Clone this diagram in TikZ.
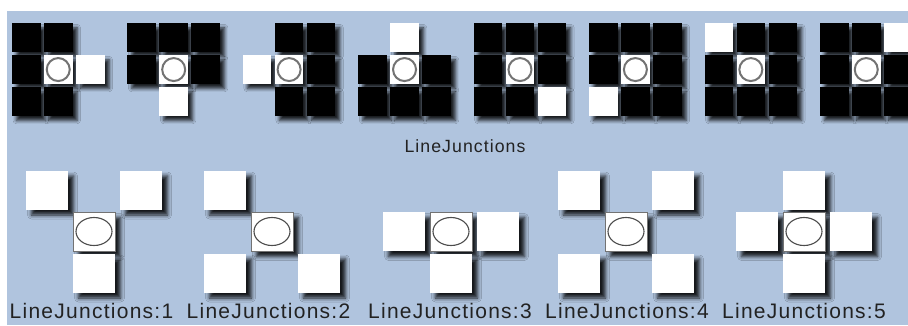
\documentclass[tikz,border=0pt]{standalone}
\usepackage{fontspec}
\newfontfamily\lblfont[LetterSpace=6]{Liberation Sans}
\usetikzlibrary{shadows.blur}
\definecolor{bgblue}{HTML}{B0C4DE}
\definecolor{txtgray}{HTML}{222222}
\newcommand{\tc}[4]{\node[#4] (t#1-#2#3) at ({12+115.43*(#1-1)+32*#2},{23.3+32*#3}) {};}
\newcommand{\tcen}[1]{\tc{#1}{1}{1}{wht}\draw[ring] (t#1-11.center) circle[radius=11.5pt];}
\newcommand{\bc}[4]{\node[#4] (b#1-#3#2) at ({\bxo+47*#2},{170.5+41.5*#3}) {};}
\newcommand{\bcen}[1]{\bc{#1}{1}{1}{bcsq}\draw[ell] (b#1-11.center) ellipse[x radius=18pt, y radius=14pt];}
\begin{document}
\begin{tikzpicture}[x=1pt,y=-1pt,
  tshadow/.style={blur shadow={shadow xshift=4.5pt, shadow yshift=-4.5pt, shadow blur radius=3.5pt, shadow opacity=85}},
  bshadow/.style={blur shadow={shadow xshift=5.5pt, shadow yshift=-5.5pt, shadow blur radius=4pt, shadow opacity=88}},
  sq/.style={draw=none, inner sep=0pt, outer sep=0pt, anchor=north west},
  topsq/.style={sq, tshadow, minimum width=28.5pt, minimum height=28.5pt},
  blk/.style={topsq, fill=black},
  wht/.style={topsq, fill=white},
  ring/.style={draw=gray!90!black, line width=2pt},
  bsq/.style={sq, bshadow, fill=white, minimum width=42pt, minimum height=39pt},
  bcsq/.style={bsq, draw=black!55, line width=0.8pt},
  ell/.style={draw=black!70, line width=1.1pt},
  lbl/.style={font=\lblfont\fontsize{21}{24}\selectfont, text=txtgray, anchor=base, inner sep=0pt},
  ttl/.style={lbl, font=\lblfont\fontsize{17.7}{20}\selectfont}
]
\useasboundingbox (0,0) rectangle (908,325);
\clip (0,0) rectangle (908,325);
\fill[white] (0,0) rectangle (908,325);
\fill[bgblue] (7,11) rectangle (908,325);

% ---- top row ----
% 1
\tc{1}{0}{0}{blk}\tc{1}{1}{0}{blk}
\tc{1}{0}{1}{blk}\tcen{1}\tc{1}{2}{1}{wht}
\tc{1}{0}{2}{blk}\tc{1}{1}{2}{blk}
% 2
\tc{2}{0}{0}{blk}\tc{2}{1}{0}{blk}\tc{2}{2}{0}{blk}
\tc{2}{0}{1}{blk}\tcen{2}\tc{2}{2}{1}{blk}
\tc{2}{1}{2}{wht}
% 3
\tc{3}{1}{0}{blk}\tc{3}{2}{0}{blk}
\tc{3}{0}{1}{wht}\tcen{3}\tc{3}{2}{1}{blk}
\tc{3}{1}{2}{blk}\tc{3}{2}{2}{blk}
% 4
\tc{4}{1}{0}{wht}
\tc{4}{0}{1}{blk}\tcen{4}\tc{4}{2}{1}{blk}
\tc{4}{0}{2}{blk}\tc{4}{1}{2}{blk}\tc{4}{2}{2}{blk}
% 5
\tc{5}{0}{0}{blk}\tc{5}{1}{0}{blk}\tc{5}{2}{0}{blk}
\tc{5}{0}{1}{blk}\tcen{5}\tc{5}{2}{1}{blk}
\tc{5}{0}{2}{blk}\tc{5}{1}{2}{blk}\tc{5}{2}{2}{wht}
% 6
\tc{6}{0}{0}{blk}\tc{6}{1}{0}{blk}\tc{6}{2}{0}{blk}
\tc{6}{0}{1}{blk}\tcen{6}\tc{6}{2}{1}{blk}
\tc{6}{0}{2}{wht}\tc{6}{1}{2}{blk}\tc{6}{2}{2}{blk}
% 7
\tc{7}{0}{0}{wht}\tc{7}{1}{0}{blk}\tc{7}{2}{0}{blk}
\tc{7}{0}{1}{blk}\tcen{7}\tc{7}{2}{1}{blk}
\tc{7}{0}{2}{blk}\tc{7}{1}{2}{blk}\tc{7}{2}{2}{blk}
% 8
\tc{8}{0}{0}{blk}\tc{8}{1}{0}{blk}\tc{8}{2}{0}{wht}
\tc{8}{0}{1}{blk}\tcen{8}\tc{8}{2}{1}{blk}
\tc{8}{0}{2}{blk}\tc{8}{1}{2}{blk}\tc{8}{2}{2}{blk}

\node[ttl] (title) at (465,152.7) {LineJunctions};

% ---- bottom row ----
% 1
\def\bxo{26}
\bc{1}{0}{0}{bsq}\bc{1}{2}{0}{bsq}
\bcen{1}
\bc{1}{1}{2}{bsq}
% 2
\def\bxo{204}
\bc{2}{0}{0}{bsq}
\bcen{2}
\bc{2}{0}{2}{bsq}\bc{2}{2}{2}{bsq}
% 3
\def\bxo{383}
\bc{3}{0}{1}{bsq}\bcen{3}\bc{3}{2}{1}{bsq}
\bc{3}{1}{2}{bsq}
% 4
\def\bxo{558}
\bc{4}{0}{0}{bsq}\bc{4}{2}{0}{bsq}
\bcen{4}
\bc{4}{0}{2}{bsq}\bc{4}{2}{2}{bsq}
% 5
\def\bxo{736}
\bc{5}{1}{0}{bsq}
\bc{5}{0}{1}{bsq}\bcen{5}\bc{5}{2}{1}{bsq}
\bc{5}{1}{2}{bsq}

\node[lbl] (l1) at (91.5,318) {LineJunctions:1};
\node[lbl] (l2) at (268.5,318) {LineJunctions:2};
\node[lbl] (l3) at (450,318) {LineJunctions:3};
\node[lbl] (l4) at (627,318) {LineJunctions:4};
\node[lbl] (l5) at (804,318) {LineJunctions:5};
\end{tikzpicture}
\end{document}
